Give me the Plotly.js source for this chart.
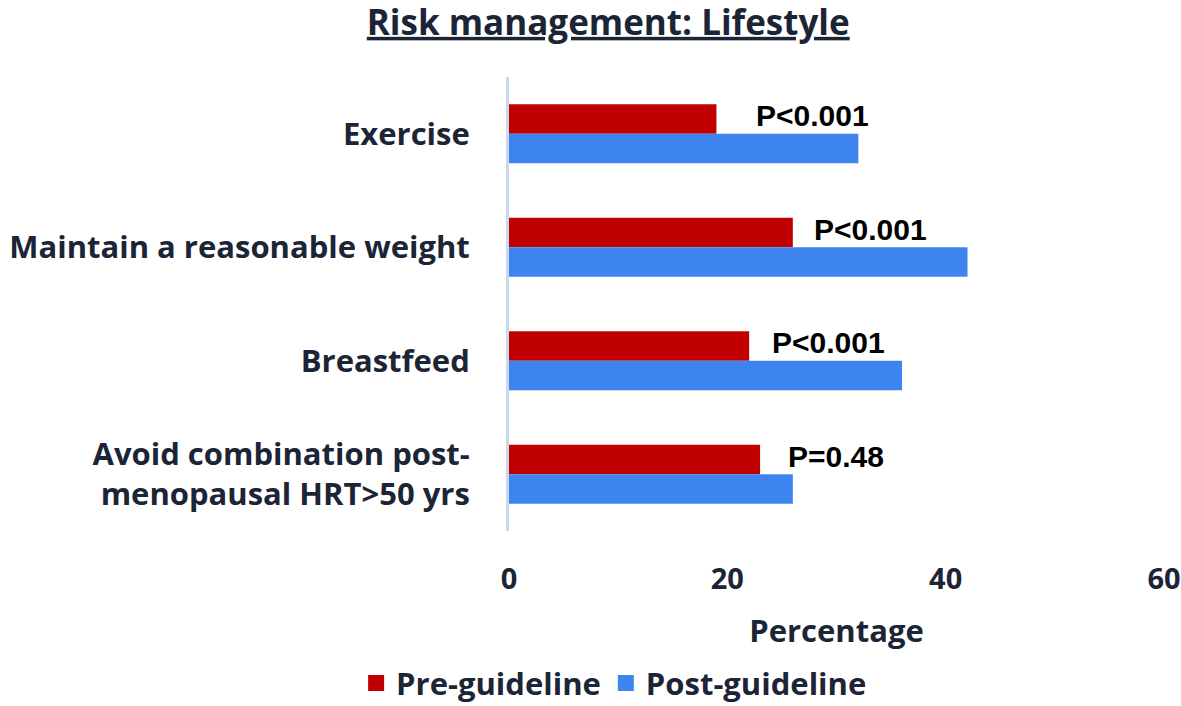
<!DOCTYPE html>
<html>
<head>
<meta charset="utf-8">
<script src="https://cdn.plot.ly/plotly-3.0.1.min.js"></script>
<style>html,body{margin:0;padding:0;background:#fff;}#chart{width:1181px;height:706px;}</style>
</head>
<body>
<div id="chart"></div>
<script>
const categories = [
  "Exercise",
  "Maintain a reasonable weight",
  "Breastfeed",
  "Avoid combination post-<br>menopausal HRT>50 yrs"
];
const preGuideline = [19, 26, 22, 23];
const postGuideline = [32, 42, 36, 26];
const pValues = ["P<0.001", "P<0.001", "P<0.001", "P=0.48"];
const xTicks = [0, 20, 40, 60];
const seriesNames = ["Pre-guideline", "Post-guideline"];
const seriesColors = ["#c00000", "#3d84f0"];

const FONT = "'Open Sans', Lato, sans-serif";
const TXT = "#1b2535";

const traces = [
  {
    type: "bar", orientation: "h", name: seriesNames[0], showlegend: false,
    y: categories, x: preGuideline,
    marker: {color: seriesColors[0]}, hoverinfo: "x+y"
  },
  {
    type: "bar", orientation: "h", name: seriesNames[1], showlegend: false,
    y: categories, x: postGuideline,
    marker: {color: seriesColors[1]}, hoverinfo: "x+y"
  }
];
// legend entries with larger square swatches
seriesNames.forEach((n, i) => traces.push({
  type: "scatter", mode: "markers", name: "<b>" + n + "</b>",
  x: [null], y: [null], showlegend: true,
  marker: {symbol: "square", size: 18, color: seriesColors[i]}
}));

const pShift = [38, 19, 21, 26];
const annotations = categories.map((c, i) => ({
  x: preGuideline[i], y: c, xref: "x", yref: "y",
  xanchor: "left", yanchor: "middle",
  xshift: pShift[i], yshift: 18,
  text: "<b>" + pValues[i] + "</b>", showarrow: false,
  font: {family: "'Liberation Sans', Arial, sans-serif", size: 30, color: "#000"}
}));

const layout = {
  width: 1181, height: 706,
  paper_bgcolor: "#fff", plot_bgcolor: "#fff",
  margin: {l: 509, r: 17, t: 77, b: 175},
  barmode: "group", bargap: 0.48, bargroupgap: 0,
  title: {
    text: "<b>Risk management: Lifestyle</b>",
    x: 0.515, xref: "container", xanchor: "center",
    y: 0.968, yref: "container", yanchor: "middle",
    font: {family: FONT, size: 35, color: TXT, lineposition: "under"}
  },
  xaxis: {
    range: [0, 60], tickvals: xTicks, ticktext: xTicks.map(v => "<b>" + v + "</b>"),
    showgrid: false, zeroline: false, showline: false, ticks: "",
    ticklabelstandoff: 28,
    tickfont: {family: FONT, size: 29, color: TXT},
    title: {text: "<b>Percentage</b>", standoff: 24, font: {family: FONT, size: 31, color: TXT}},
    fixedrange: true
  },
  yaxis: {
    autorange: "reversed", showgrid: false, zeroline: false,
    showline: true, linecolor: "#cad9eb", linewidth: 3, ticks: "",
    ticklabelstandoff: 30,
    tickvals: categories, ticktext: categories.map(c => "<b>" + c + "</b>"),
    tickfont: {family: FONT, size: 31, color: TXT},
    fixedrange: true
  },
  showlegend: true,
  legend: {
    orientation: "h", xref: "container", yref: "container",
    x: 0.52, xanchor: "center", y: 0.032, yanchor: "middle",
    font: {family: FONT, size: 31, color: TXT},
    itemwidth: 30, traceorder: "normal"
  },
  annotations: annotations
};

Plotly.newPlot("chart", traces, layout, {displayModeBar: false, staticPlot: true});
</script>
</body>
</html>
